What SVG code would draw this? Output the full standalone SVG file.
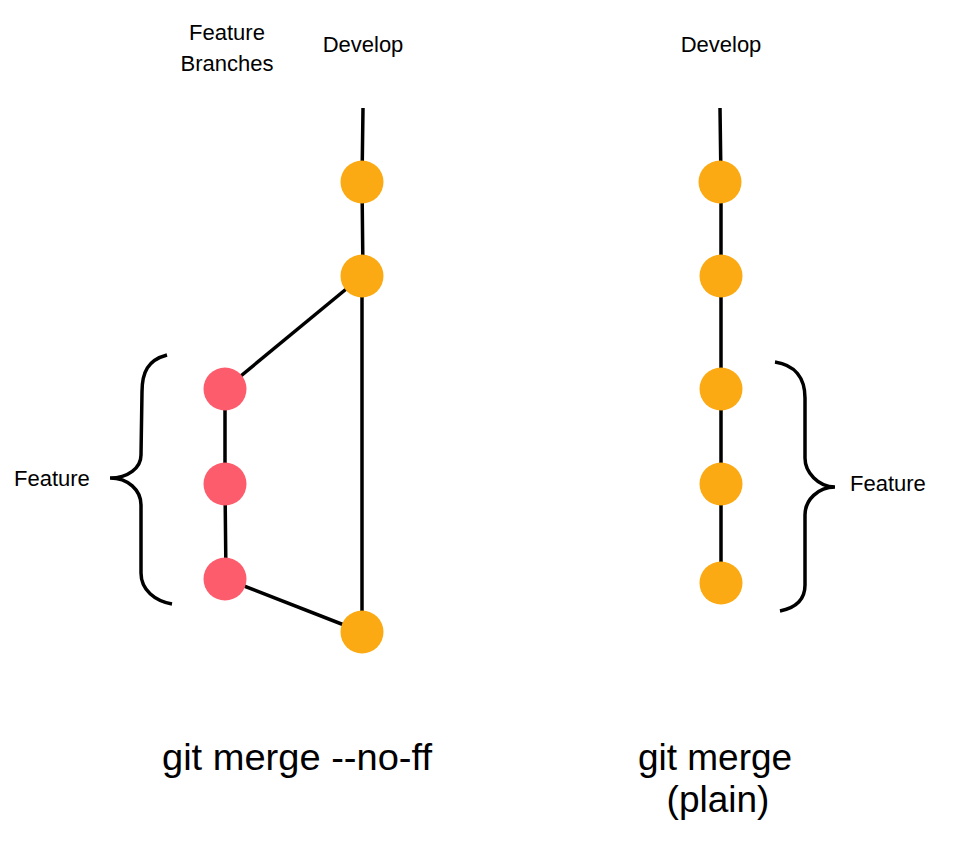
<svg xmlns="http://www.w3.org/2000/svg" width="956" height="846" viewBox="0 0 956 846">
<style>
.t{font-family:"Liberation Sans",Arial,sans-serif;fill:#000}
.s{font-size:22px}
.b{font-size:37px}
.ln{stroke:#000;stroke-width:3.5;fill:none}
.br{stroke:#000;stroke-width:3.5;fill:none}
.dev{fill:#FBAA14}
.fea{fill:#FC5C6C}
</style>
<rect width="956" height="846" fill="#fff"/>
<g id="connectors">
<polyline class="ln" points="363,108 362,182 363,276"/>
<line class="ln" x1="362" y1="276" x2="362" y2="632"/>
<line class="ln" x1="362" y1="276" x2="225" y2="389"/>
<polyline class="ln" points="225,389 225,484 226,579"/>
<line class="ln" x1="226" y1="579" x2="362" y2="632"/>
<polyline class="ln" points="720,108 721,182 721,276 721,389 721,484 721,583"/>
</g>
<g id="brace-left"><path class="br" d="M167,355 C148,360 142,372 142,392 L141,455 C141,468 128,478 110,478 C128,478 141,490 141,505 L141,573 C141,590 155,601 172,604"/></g>
<g id="brace-right"><path class="br" d="M775,362 C795,365 805,378 805,398 L805,458 C805,472 818,487 835,487 C818,487 805,500 805,515 L805,585 C805,600 795,608 780,611"/></g>
<g id="dev-left-1"><circle class="dev" cx="362" cy="182" r="21.5"/></g>
<g id="dev-left-2"><circle class="dev" cx="362" cy="276" r="21.5"/></g>
<g id="dev-left-3"><circle class="dev" cx="362" cy="632" r="21.5"/></g>
<g id="feat-1"><circle class="fea" cx="225" cy="389" r="21.5"/></g>
<g id="feat-2"><circle class="fea" cx="225" cy="484" r="21.5"/></g>
<g id="feat-3"><circle class="fea" cx="225" cy="579" r="21.5"/></g>
<g id="dev-right-1"><circle class="dev" cx="720" cy="182" r="21.5"/></g>
<g id="dev-right-2"><circle class="dev" cx="721" cy="276" r="21.5"/></g>
<g id="dev-right-3"><circle class="dev" cx="721" cy="389" r="21.5"/></g>
<g id="dev-right-4"><circle class="dev" cx="721" cy="484" r="21.5"/></g>
<g id="dev-right-5"><circle class="dev" cx="721" cy="583" r="21.5"/></g>
<g id="labels">
<text class="t s" x="227" y="40" text-anchor="middle">Feature</text>
<text class="t s" x="227" y="71" text-anchor="middle">Branches</text>
<text class="t s" x="363" y="52" text-anchor="middle">Develop</text>
<text class="t s" x="721" y="52" text-anchor="middle">Develop</text>
<text class="t s" x="14" y="486">Feature</text>
<text class="t s" x="850" y="491">Feature</text>
<text class="t b" x="297" y="770" text-anchor="middle" textLength="270" lengthAdjust="spacingAndGlyphs">git merge --no-ff</text>
<text class="t b" x="715" y="770" text-anchor="middle">git merge</text>
<text class="t b" x="718" y="812" text-anchor="middle">(plain)</text>
</g>
</svg>
